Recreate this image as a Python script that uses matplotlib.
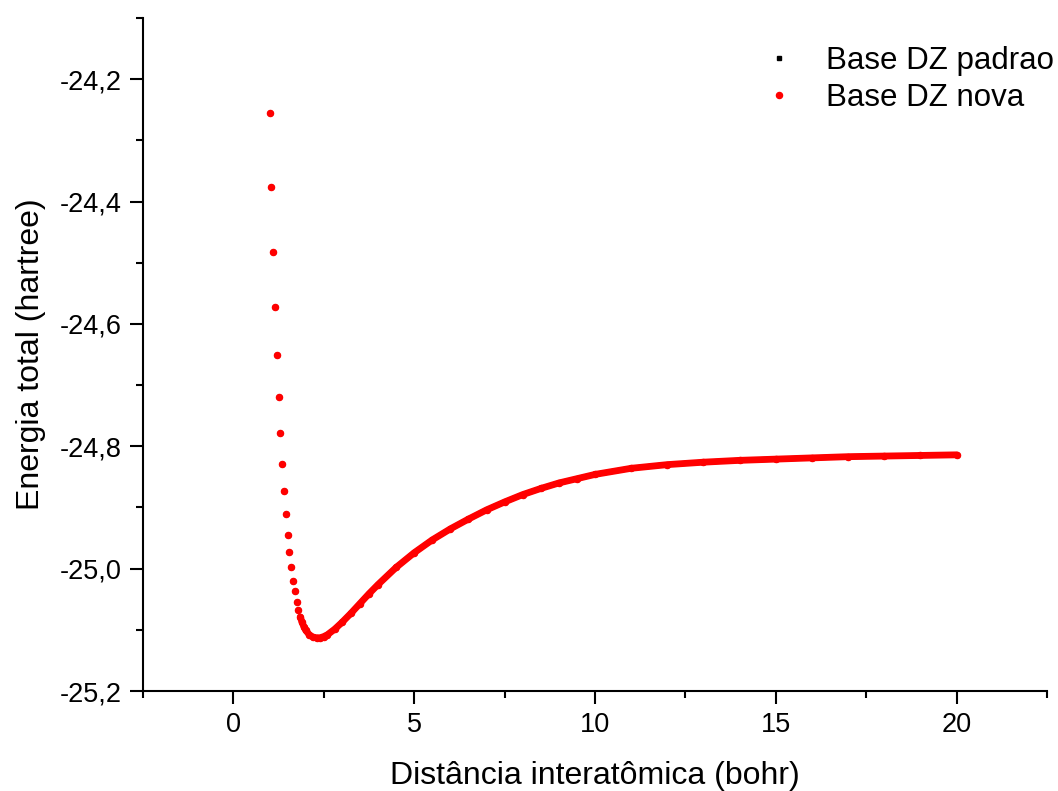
import matplotlib
matplotlib.use("Agg")
import matplotlib.pyplot as plt
from matplotlib.ticker import MultipleLocator, FuncFormatter

plt.rcParams['font.family'] = ['Liberation Sans', 'DejaVu Sans']

# distancia interatomica (bohr) e energia total (hartree)
distancia = [1.00, 1.05, 1.10, 1.15, 1.20, 1.25, 1.30, 1.35, 1.40, 1.45,
             1.50, 1.55, 1.60, 1.65, 1.70, 1.75, 1.80, 1.85, 1.90, 1.95,
             2.00, 2.10, 2.20, 2.30, 2.40, 2.50, 2.60, 2.80, 3.00, 3.25,
             3.50, 3.75, 4.00, 4.50, 5.00, 5.50, 6.00, 6.50, 7.00, 7.50,
             8.00, 8.50, 9.00, 9.50, 10.0, 11.0, 12.0, 13.0, 14.0, 15.0,
             16.0, 17.0, 18.0, 19.0, 20.0]
energia_padrao = [-24.256, -24.377, -24.482, -24.572, -24.651, -24.719, -24.778, -24.829, -24.873, -24.911,
                  -24.945, -24.973, -24.998, -25.020, -25.037, -25.054, -25.067, -25.079, -25.088, -25.095,
                  -25.101, -25.108, -25.112, -25.113, -25.113, -25.111, -25.108, -25.099, -25.088, -25.073,
                  -25.057, -25.041, -25.026, -24.998, -24.974, -24.953, -24.935, -24.919, -24.904, -24.891,
                  -24.879, -24.869, -24.860, -24.853, -24.846, -24.836, -24.830, -24.826, -24.823, -24.821,
                  -24.819, -24.817, -24.816, -24.815, -24.814]
energia_nova = list(energia_padrao)

# a partir daqui os pontos ficam tao juntos que formam uma faixa continua
inicio_denso = 17

fig = plt.figure(figsize=(10.58, 7.91), dpi=100)
ax = fig.add_axes([143 / 1058, 1 - 691 / 791, (1047 - 143) / 1058, (691 - 18) / 791])

# Base DZ padrao (quadrados pretos, ficam por baixo)
ax.plot(distancia[inicio_denso:], energia_padrao[inicio_denso:], color='black', lw=3.8,
        solid_capstyle='round', zorder=2)
ax.plot(distancia, energia_padrao, ls='none', marker='s', ms=3.2, color='black',
        label='Base DZ padrao', zorder=2)

# Base DZ nova (circulos vermelhos)
ax.plot(distancia[inicio_denso:], energia_nova[inicio_denso:], color='red', lw=4.9,
        solid_capstyle='round', zorder=3)
ax.plot(distancia, energia_nova, ls='none', marker='o', ms=4.4, color='red',
        label='Base DZ nova', zorder=3)

ax.set_xlim(-2.5, 22.5)
ax.set_ylim(-25.2, -24.1)

for s in ['top', 'right']:
    ax.spines[s].set_visible(False)
for s in ['left', 'bottom']:
    ax.spines[s].set_linewidth(1.5)

ax.xaxis.set_major_locator(MultipleLocator(5))
ax.xaxis.set_minor_locator(MultipleLocator(2.5))
ax.yaxis.set_major_locator(MultipleLocator(0.2))
ax.yaxis.set_minor_locator(MultipleLocator(0.1))
ax.xaxis.set_major_formatter(FuncFormatter(lambda v, p: f"{v:.0f}"))
ax.yaxis.set_major_formatter(FuncFormatter(lambda v, p: f"{v:.1f}".replace('.', ',').replace('\u2212', '-')))

ax.tick_params(which='major', direction='out', length=9.4, width=1.5, labelsize=19.5, pad=6)
ax.tick_params(which='minor', direction='out', length=5, width=1.5)

ax.set_xlabel('Distância interatômica (bohr)', fontsize=23, labelpad=16)
ax.set_ylabel('Energia total (hartree)', fontsize=23, labelpad=10)

leg = ax.legend(loc='upper left', bbox_to_anchor=(763 / 1058, 1 - 46 / 791),
                bbox_transform=fig.transFigure, frameon=False, fontsize=22.5,
                numpoints=1, handlelength=1.0, handletextpad=1.0, labelspacing=0.23,
                borderpad=0, borderaxespad=0, markerscale=1.0)

fig.savefig('out.png', dpi=100)
